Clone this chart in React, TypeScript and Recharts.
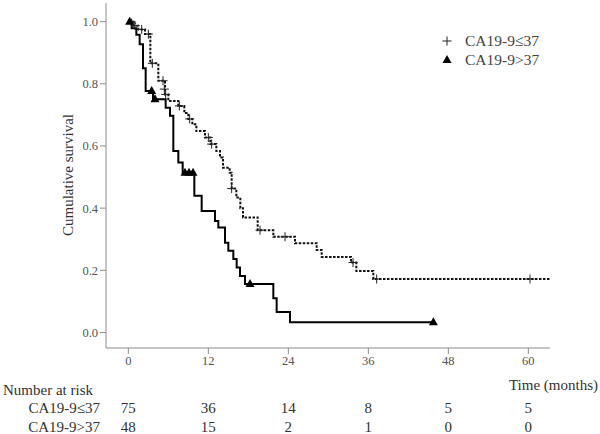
import { ComposedChart, Line, Scatter, XAxis, YAxis } from 'recharts';

// Kaplan-Meier steps: time (months) / cumulative survival
const lowTimes = [0, 0.8, 1.5, 2.5, 3.3, 4.5, 5.5, 6.0, 7.5, 8.4, 9.0, 9.6, 10.2, 11.5, 12.3, 13.2, 13.75, 14.2, 15.2, 15.5, 16.2, 16.8, 17.2, 19.4, 21.75, 25, 28.25, 29, 33.4, 34.2, 36.75, 63.25];
const lowSurv = [1.0, 0.987, 0.975, 0.96, 0.866, 0.81, 0.766, 0.745, 0.729, 0.706, 0.687, 0.67, 0.648, 0.627, 0.606, 0.584, 0.563, 0.53, 0.514, 0.463, 0.434, 0.4, 0.37, 0.329, 0.308, 0.287, 0.265, 0.243, 0.225, 0.198, 0.172, 0.172];
const lowCensorTimes = [0.5, 1.0, 2.0, 3.0, 3.6, 5.2, 5.4, 5.6, 7.65, 9.2, 12.0, 12.5, 15.5, 19.75, 23.5, 33.7, 37.25, 60.25];
const lowCensorSurv = [0.995, 0.987, 0.975, 0.96, 0.866, 0.81, 0.783, 0.766, 0.729, 0.687, 0.627, 0.606, 0.463, 0.329, 0.308, 0.225, 0.172, 0.172];

const highTimes = [0, 0.5, 1.2, 1.7, 2.2, 2.6, 3.7, 5.6, 6.25, 6.75, 7.5, 8.15, 9.9, 11.0, 13.0, 13.5, 14.5, 15.0, 15.75, 16.25, 16.75, 17.5, 21.75, 22.25, 24.25, 45.75];
const highSurv = [1.0, 0.979, 0.958, 0.927, 0.85, 0.777, 0.75, 0.723, 0.697, 0.584, 0.547, 0.514, 0.44, 0.391, 0.359, 0.338, 0.289, 0.263, 0.236, 0.209, 0.182, 0.156, 0.11, 0.066, 0.033, 0.033];
const highCensorTimes = [0.2, 3.5, 4.0, 8.5, 9.1, 9.7, 18.25, 45.75];
const highCensorSurv = [1.0, 0.777, 0.75, 0.514, 0.514, 0.514, 0.156, 0.033];

const xTicks = [0, 12, 24, 36, 48, 60];
const yTicks = [0, 0.2, 0.4, 0.6, 0.8, 1.0];
const riskLow = [75, 36, 14, 8, 5, 5];
const riskHigh = [48, 15, 2, 1, 0, 0];
const groupLow = 'CA19-9≤37';
const groupHigh = 'CA19-9>37';

const toRows = (t: number[], s: number[]) => t.map((v, i) => ({ t: v, s: s[i] }));
const lowLine = toRows(lowTimes, lowSurv);
const highLine = toRows(highTimes, highSurv);
const lowCensor = toRows(lowCensorTimes, lowCensorSurv);
const highCensor = toRows(highCensorTimes, highCensorSurv);

const FONT = '"Liberation Serif", "Times New Roman", serif';

const Plus = (props: any) => {
    const { cx, cy } = props;
    return (
        <g stroke="#222" strokeWidth={1}>
            <line x1={cx - 4.5} y1={cy} x2={cx + 4.5} y2={cy} />
            <line x1={cx} y1={cy - 4.5} x2={cx} y2={cy + 4.5} />
        </g>
    );
};

const Tri = (props: any) => {
    const { cx, cy } = props;
    return <path d={`M${cx},${cy - 5} L${cx + 4.5},${cy + 3} L${cx - 4.5},${cy + 3} Z`} fill="#000" />;
};

const XTick = (props: any) => {
    const { x, y, payload, index } = props;
    return (
        <g fontFamily={FONT}>
            <text x={x} y={y} dy="0.71em" textAnchor="middle" fontSize={12.5} fill="#555">{payload.value}</text>
            <text x={x} y={y + 57} textAnchor="middle" fontSize={15} fill="#333">{riskLow[index]}</text>
            <text x={x} y={y + 76} textAnchor="middle" fontSize={15} fill="#333">{riskHigh[index]}</text>
        </g>
    );
};

function App() {
    return (
        <div style={{ position: 'absolute', left: 0, top: 0, width: 600, height: 434, background: '#fff' }}>
            <ComposedChart width={600} height={434} margin={{ top: 3, right: 50, bottom: 56, left: 66 }}>
                <XAxis
                    dataKey="t"
                    type="number"
                    domain={[-3.35, 63.25]}
                    ticks={xTicks}
                    allowDataOverflow
                    height={30}
                    stroke="#8c8c8c"
                    tickSize={6}
                    tickMargin={2}
                    tick={<XTick />}
                />
                <YAxis
                    dataKey="s"
                    type="number"
                    domain={[-0.05, 1.06]}
                    ticks={yTicks}
                    allowDataOverflow
                    width={40}
                    stroke="#8c8c8c"
                    tickSize={6}
                    tickMargin={2}
                    tickFormatter={(v: number) => v.toFixed(1)}
                    tick={{ fill: '#555', fontSize: 12.5, fontFamily: FONT }}
                />
                <Line data={lowLine} dataKey="s" type="stepAfter" stroke="#111" strokeWidth={2} strokeDasharray="2.5 1.5" dot={false} activeDot={false} isAnimationActive={false} />
                <Line data={highLine} dataKey="s" type="stepAfter" stroke="#000" strokeWidth={2} dot={false} activeDot={false} isAnimationActive={false} />
                <Scatter data={lowCensor} dataKey="s" shape={<Plus />} isAnimationActive={false} />
                <Scatter data={highCensor} dataKey="s" shape={<Tri />} isAnimationActive={false} />
            </ComposedChart>
            <svg width={600} height={434} style={{ position: 'absolute', left: 0, top: 0, pointerEvents: 'none' }} fontFamily={FONT}>
                <text transform="translate(73,175) rotate(-90)" textAnchor="middle" fontSize={15} fill="#333">Cumulative survival</text>
                <Plus cx={447} cy={41} />
                <text x={465} y={46} fontSize={15.5} fill="#444">{groupLow}</text>
                <Tri cx={447} cy={60} />
                <text x={465} y={65} fontSize={15.5} fill="#444">{groupHigh}</text>
                <text x={598} y={390} textAnchor="end" fontSize={15} fill="#333">Time (months)</text>
                <text x={3} y={395} fontSize={15} fill="#333">Number at risk</text>
                <text x={100} y={413} textAnchor="end" fontSize={15} fill="#333">{groupLow}</text>
                <text x={100} y={432} textAnchor="end" fontSize={15} fill="#333">{groupHigh}</text>
            </svg>
        </div>
    );
}

export default App;
